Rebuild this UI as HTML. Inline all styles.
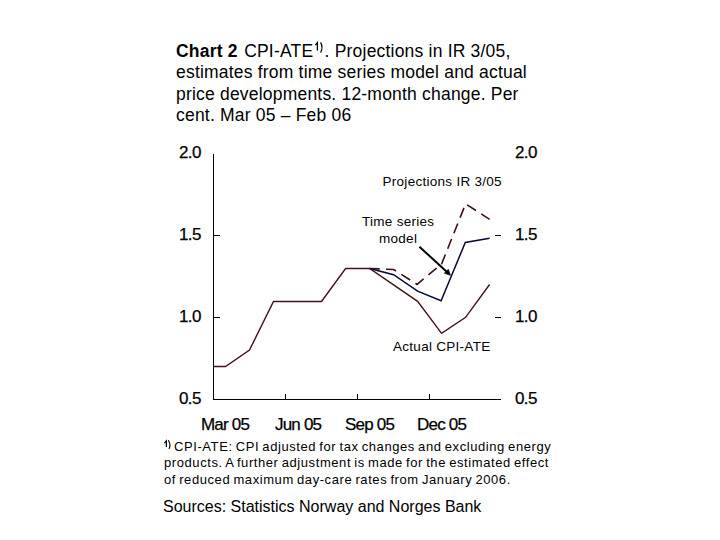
<!DOCTYPE html>
<html>
<head>
<meta charset="utf-8">
<style>
html,body{margin:0;padding:0;background:#fff;}
body{width:720px;height:540px;position:relative;overflow:hidden;font-family:"Liberation Sans",sans-serif;color:#000;}
.t{position:absolute;white-space:pre;line-height:1;}
#title{font-size:17.5px;letter-spacing:0.2px;}
.ttl{position:absolute;left:176px;white-space:pre;line-height:1;}
.yl{font-size:17px;letter-spacing:-0.6px;-webkit-text-stroke:0.25px #000;}
.xl{font-size:17px;letter-spacing:-0.8px;-webkit-text-stroke:0.25px #000;}
.ann{font-size:13.5px;letter-spacing:0.28px;}
.fn{font-size:13px;letter-spacing:0.58px;word-spacing:-1px;}
sup{font-size:10px;vertical-align:0;position:relative;}
</style>
</head>
<body>
<div id="title">
<div class="ttl" style="top:43px"><b>Chart 2</b><span style="margin-left:1.4px"> CPI-ATE</span><span style="display:inline-block;width:11.3px"></span><span style="letter-spacing:0.2px">. Projections in IR 3/05,</span></div>
<div class="ttl" style="top:64.3px">estimates from time series model and actual</div>
<div class="ttl" style="top:85.5px">price developments. 12-month change. Per</div>
<div class="ttl" style="top:106.8px">cent. Mar 05 – Feb 06</div>
</div>

<svg width="720" height="540" style="position:absolute;left:0;top:0">
<g stroke="#000" stroke-width="1" fill="none" shape-rendering="crispEdges">
<path d="M213.5 154V399.5H501"/>
<path d="M213 235.5H220M213 317.5H220M495 235.5H501M495 317.5H501"/>
<path d="M285.5 393.5V399M357.5 393.5V399M429.5 393.5V399"/>
</g>
<polyline fill="none" stroke="#421218" stroke-width="1.4"
 points="213.5,366.5 225.5,366.5 249.5,350 273.5,301.5 297.5,301.5 321.5,301.5 345.6,268.5 369.6,268.5 393.6,284.8 417.6,301.3 441.6,333.3 465.6,317.3 489.6,284.5"/>
<polyline fill="none" stroke="#08083a" stroke-width="1.5"
 points="369.6,268.5 393.6,274.7 417.6,291.2 441.1,300.8 465.3,242.5 489.6,238.2"/>
<polyline fill="none" stroke="#3c0f14" stroke-width="1.6" stroke-dasharray="10.5 6.25" stroke-dashoffset="0.35"
 points="369.6,268.5 393.6,269.5 417,284.4 441.6,264 465.6,203.8 489.6,219.4"/>
<line x1="419.4" y1="246.7" x2="447" y2="272" stroke="#000" stroke-width="2"/>
<polygon points="450.5,275.3 444.3,273.3 448.3,269.2" fill="#000" stroke="#000" stroke-width="0.6"/>
<g fill="none" stroke="#000" stroke-linecap="butt">
<path d="M315.4 45.2L317.4 42.6V50.6" stroke-width="1.3"/>
<path d="M320.6 42.4Q323.4 47.5 320.6 52.6" stroke-width="1.2"/>
<path d="M164.4 443.1L166.4 440.9V447.1" stroke-width="1.2"/>
<path d="M168.3 440.3Q171.2 444.6 169 449" stroke-width="1.15"/>
</g>
</svg>

<div class="t yl" style="left:179px;top:144px">2.0</div>
<div class="t yl" style="left:179px;top:226px">1.5</div>
<div class="t yl" style="left:179px;top:308px">1.0</div>
<div class="t yl" style="left:179px;top:390px">0.5</div>
<div class="t yl" style="left:515px;top:144px">2.0</div>
<div class="t yl" style="left:515px;top:226px">1.5</div>
<div class="t yl" style="left:515px;top:308px">1.0</div>
<div class="t yl" style="left:515px;top:390px">0.5</div>

<div class="t xl" style="left:201px;top:416px">Mar 05</div>
<div class="t xl" style="left:275px;top:416px">Jun 05</div>
<div class="t xl" style="left:345px;top:416px">Sep 05</div>
<div class="t xl" style="left:417px;top:416px">Dec 05</div>

<div class="t ann" style="left:382.5px;top:175px">Projections IR 3/05</div>
<div class="t ann" style="left:362px;top:215px">Time series</div>
<div class="t ann" style="left:379px;top:232.3px">model</div>
<div class="t ann" style="left:393px;top:340.2px">Actual CPI-ATE</div>

<div class="t fn" style="left:174px;top:439.7px">CPI-ATE: CPI adjusted for tax changes and excluding energy</div>
<div class="t fn" style="left:164px;top:456.4px">products. A further adjustment is made for the estimated effect</div>
<div class="t fn" style="left:164px;top:473.2px">of reduced maximum day-care rates from January 2006.</div>
<div class="t" style="left:163px;top:499px;font-size:16px;letter-spacing:0px">Sources: Statistics Norway and Norges Bank</div>
</body>
</html>
